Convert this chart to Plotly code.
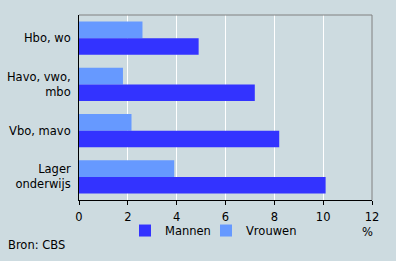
import plotly.graph_objects as go

categories = ["Hbo, wo", "Havo, vwo,<br>mbo", "Vbo, mavo", "Lager<br>onderwijs"]
mannen = [4.9, 7.2, 8.2, 10.1]
vrouwen = [2.6, 1.8, 2.15, 3.9]
x_ticks = [0, 2, 4, 6, 8, 10, 12]

FONT = "DejaVu Sans"
BG = "#CDDBE0"
FS = 11.5

fig = go.Figure()
fig.add_trace(go.Bar(y=categories, x=vrouwen, orientation="h", name="Vrouwen",
                     marker=dict(color="#6699FF", line=dict(width=0)), legend="legend2"))
fig.add_trace(go.Bar(y=categories, x=mannen, orientation="h", name="Mannen",
                     marker=dict(color="#3333FF", line=dict(width=0)), legend="legend"))

leg_common = dict(orientation="h", xanchor="left", y=-0.165, yanchor="middle",
                  bgcolor="rgba(0,0,0,0)", font=dict(size=FS), itemwidth=30,
                  tracegroupgap=0)

fig.update_layout(
    width=396, height=261,
    margin=dict(l=79, r=24, t=15, b=61, autoexpand=False),
    paper_bgcolor=BG, plot_bgcolor=BG,
    font=dict(family=FONT, size=FS, color="#000000"),
    barmode="group", bargap=0.28, bargroupgap=0,
    showlegend=True,
    legend=dict(x=(125 - 79) / 293, **leg_common),
    legend2=dict(x=(206 - 79) / 293, **leg_common),
    xaxis=dict(range=[0, 12], tickvals=x_ticks, showgrid=True, gridcolor="#FFFFFF",
               gridwidth=1, showline=True, linecolor="#000000", linewidth=1,
               ticks="outside", ticklen=4, tickcolor="#000000", zeroline=False,
               ticklabelstandoff=2, automargin=False, fixedrange=True),
    yaxis=dict(autorange="reversed", showline=True, linecolor="#000000", linewidth=1,
               ticks="", showgrid=False, ticklabelstandoff=5, automargin=False,
               fixedrange=True),
    shapes=[
        dict(type="line", xref="paper", yref="paper", x0=0, x1=1, y0=1, y1=1,
             line=dict(color="#808080", width=1)),
        dict(type="line", xref="paper", yref="paper", x0=1, x1=1, y0=0, y1=1,
             line=dict(color="#808080", width=1)),
    ],
    annotations=[
        dict(text="%", xref="paper", yref="paper", x=0.985, y=-0.175, xanchor="center",
             yanchor="middle", showarrow=False, font=dict(size=FS)),
        dict(text="Bron: CBS", xref="paper", yref="paper", x=-0.25, y=-0.245,
             xanchor="left", yanchor="middle", showarrow=False, font=dict(size=FS)),
    ],
)

fig.write_html("out.html")
